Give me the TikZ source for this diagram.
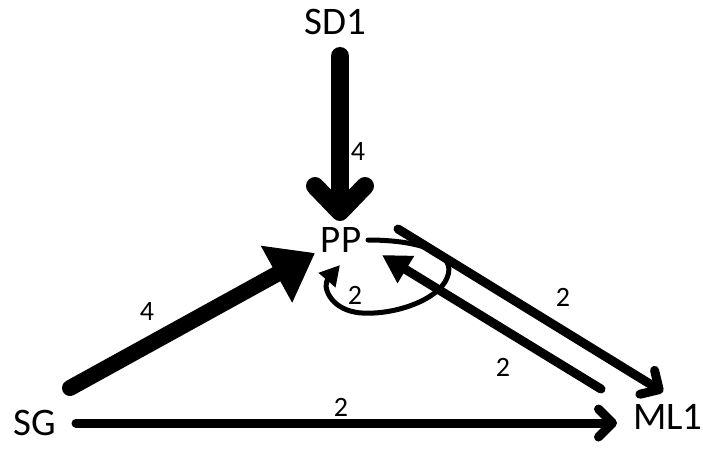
\documentclass[tikz,border=0pt]{standalone}
\usepackage{fontspec}
\setmainfont{Carlito}
\usetikzlibrary{arrows.meta}
\tikzset{
  species/.style={inner sep=2pt, font=\fontsize{39}{40}\selectfont},
  weight/.style={inner sep=1pt, font=\fontsize{28}{29}\selectfont},
  heavy/.style={line width=16pt, line cap=round, -{Triangle[length=44pt,width=62pt]}},
  heavybarb/.style={line width=18pt, line cap=round, -{Straight Barb[length=26pt,width=50pt,round]}},
  light/.style={line width=9pt, line cap=round, -{Straight Barb[length=14pt,width=28pt,round]}},
  back/.style={line width=9pt, line cap=round, -{Triangle[length=28pt,width=30pt]}},
  selfloop/.style={line width=5pt, line cap=round, -{Triangle[length=20pt,width=21pt]}},
}

\begin{document}
\begin{tikzpicture}[x=1pt,y=1pt]
        \useasboundingbox (0,0) rectangle (703,448);

        % Place the species
        \node[species] (SD1) at (335,426) {SD1};
        \node[species] (PP)  at (341,208) {PP};
        \node[species] (SG)  at (35,25)   {SG};
        \node[species] (ML1) at (668,31)  {ML1};

        % Heavy flows
        \draw[heavybarb] ([shift={(5,-34)}]SD1.center) -- ([shift={(-1,19)}]PP.center);
        \draw[heavy] ([shift={(35,35)}]SG.center) -- ([shift={(-26,-13)}]PP.center);

        % Light flows
        \draw[light] ([shift={(41,0)}]SG.center) -- ([shift={(-51,-6)}]ML1.center);
        \draw[light] ([shift={(57,11)}]PP.center) -- ([shift={(-5,25)}]ML1.center);
        \draw[back] ([shift={(-67,28)}]ML1.center) -- ([shift={(41,-15)}]PP.center);

        % Self loop on PP
        \draw[selfloop] ([shift={(27,0)}]PP.center) .. controls (420,208) and (458,195) .. (447,170)
            .. controls (438,148) and (395,133) .. (362,135)
            .. controls (330,137) and (322,162) .. ([shift={(-1,-25)}]PP.center);

        % Weights
        \node[weight] (wSD1) at (358,296) {4};
        \node[weight] (wSG)  at (147,136) {4};
        \node[weight] (wSGML) at (341,41) {2};
        \node[weight] (wPPML) at (563,151) {2};
        \node[weight] (wMLPP) at (503,81) {2};
        \node[weight] (wPP)  at (355,153) {2};
\end{tikzpicture}
\end{document}
